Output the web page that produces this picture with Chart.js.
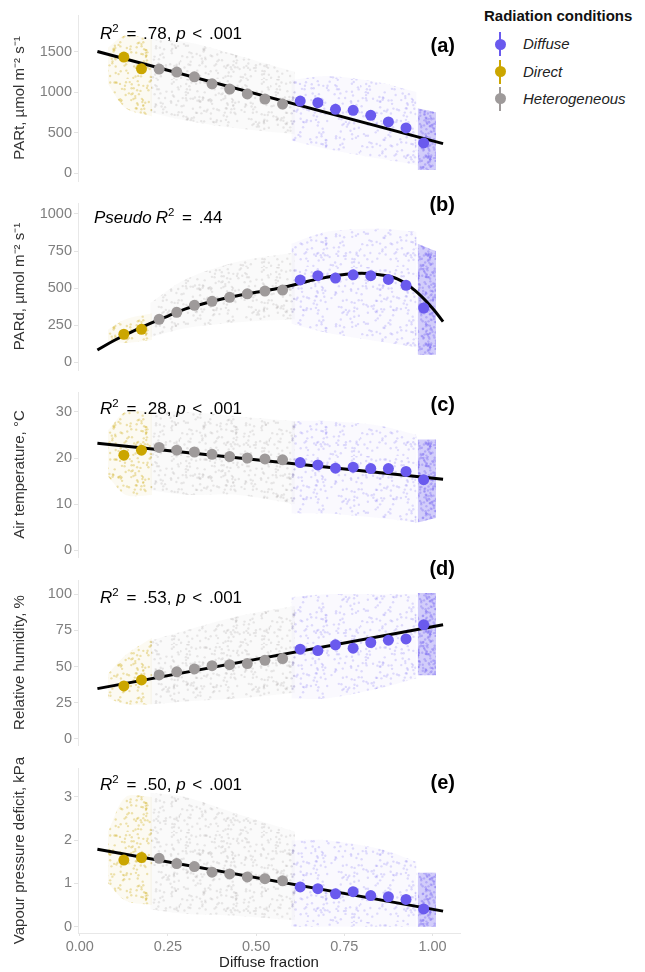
<!DOCTYPE html>
<html>
<head>
<meta charset="utf-8">
<script src="https://cdn.jsdelivr.net/npm/chart.js@4.4.1/dist/chart.umd.min.js"></script>
<style>
  body { margin: 0; background: #fff; width: 645px; height: 972px; position: relative; overflow: hidden;
         font-family: "Liberation Sans", Arial, sans-serif; }
  canvas { position: absolute; left: 0; }
  .lt { position: absolute; left: 484px; top: 7px; font-weight: bold; font-size: 15px; color: #111; }
  .li { position: absolute; left: 488px; height: 24px; line-height: 24px; font-style: italic; font-size: 15px; color: #222; }
  .li .bar { position: absolute; left: 11px; top: 0; width: 2px; height: 24px; }
  .li .dot { position: absolute; left: 6.5px; top: 6.5px; width: 11px; height: 11px; border-radius: 50%; }
  .li span.txt { position: absolute; left: 35px; white-space: nowrap; }
</style>
</head>
<body>
<canvas id="pa"></canvas>
<canvas id="pb"></canvas>
<canvas id="pc"></canvas>
<canvas id="pd"></canvas>
<canvas id="pe"></canvas>
<div id="legend"></div>
<script>
// bin centres of the diffuse fraction, by radiation condition
const directX = [0.125, 0.175];
const heteroX = [0.225, 0.275, 0.325, 0.375, 0.425, 0.475, 0.525, 0.575];
const diffuseX = [0.625, 0.675, 0.725, 0.775, 0.825, 0.875, 0.925, 0.975];

// binned means: 2 direct, 8 heterogeneous, 8 diffuse
const meanParT = [1432, 1288, 1284, 1247, 1189, 1103, 1038, 977, 915, 853, 890, 870, 788, 775, 714, 632, 558, 374];
const meanParD = [189, 222, 290, 337, 384, 411, 438, 462, 480, 487, 555, 584, 568, 590, 584, 559, 519, 366];
const meanTemp = [20.6, 21.7, 22.3, 21.7, 21.3, 20.8, 20.3, 20.0, 19.8, 19.6, 19.0, 18.5, 17.8, 18.0, 17.7, 17.7, 17.1, 15.3];
const meanRH = [36.7, 40.8, 44.3, 46.4, 48.4, 50.7, 51.4, 52.1, 54.4, 55.6, 62.1, 61.1, 65.1, 62.8, 66.7, 68.3, 69.2, 78.9];
const meanVPD = [1.54, 1.60, 1.58, 1.46, 1.39, 1.26, 1.22, 1.15, 1.11, 1.06, 0.92, 0.88, 0.76, 0.81, 0.72, 0.69, 0.63, 0.41];

// fitted lines
const fitX = [0.05, 1.03];
const fitParT = [1500, 365];
const fitTemp = [23.2, 15.4];
const fitRH = [34.8, 78.9];
const fitVPD = [1.79, 0.36];
const curveX = [0.05, 0.10, 0.15, 0.20, 0.25, 0.30, 0.35, 0.40, 0.45, 0.50, 0.55, 0.60, 0.65, 0.70, 0.75, 0.80, 0.85, 0.90, 0.95, 1.00, 1.03];
const curveParD = [83, 150, 208, 262, 312, 360, 395, 425, 450, 472, 492, 518, 548, 574, 592, 600, 590, 562, 485, 365, 274];

// raw-data clouds, rough envelopes: direct(3) | heterogeneous(4) | diffuse(4) | dense strip near 1 (2)
const cloudDirectX = [0.08, 0.13, 0.205];
const cloudHeteroX = [0.2, 0.3, 0.45, 0.61];
const cloudDiffuseX = [0.6, 0.7, 0.85, 0.955];
const cloudStripX = [0.958, 1.01];
const hiParT = [1550, 1700, 1650, 1650, 1620, 1450, 1250, 1150, 1200, 1120, 1000, 800, 750];
const loParT = [1100, 800, 700, 750, 650, 550, 480, 400, 300, 180, 100, 40, 40];
const hiParD = [220, 290, 330, 400, 560, 680, 740, 800, 880, 900, 880, 800, 750];
const loParD = [140, 130, 150, 170, 230, 270, 290, 260, 200, 140, 100, 50, 50];
const hiTemp = [26, 30, 30, 30, 30, 29, 28, 28, 28, 27, 25, 24, 24];
const loTemp = [16, 12, 12, 13, 12, 12, 10, 8, 8, 7, 6, 6, 7];
const hiRH = [45, 58, 70, 68, 75, 85, 92, 98, 100, 100, 100, 101, 101];
const loRH = [28, 24, 24, 24, 26, 28, 32, 28, 28, 35, 42, 44, 44];
const hiVPD = [2.2, 3.0, 3.0, 3.1, 3.0, 2.6, 2.2, 2.0, 2.0, 1.8, 1.5, 1.25, 1.25];
const loVPD = [1.0, 0.6, 0.5, 0.4, 0.3, 0.25, 0.15, 0, 0, 0, 0, 0, 0];

const ticksParT = [0, 500, 1000, 1500];
const ticksParD = [0, 250, 500, 750, 1000];
const ticksTemp = [0, 10, 20, 30];
const ticksRH = [0, 25, 50, 75, 100];
const ticksVPD = [0, 1, 2, 3];
const ticksX = [0, 0.25, 0.5, 0.75, 1];

const groups = ['Diffuse', 'Direct', 'Heterogeneous'];
const colDiffuse = '106,90,238';
const colDirect = '203,166,0';
const colHetero = '158,154,154';

const FONT = '"Liberation Sans", Arial, sans-serif';

function pts(xs, ys) { return xs.map((x, i) => ({ x: x, y: ys[i] })); }

// speckled texture so the envelopes read as a haze of faint points
function hash(i) { const s = Math.sin(i * 12.9898 + 78.233) * 43758.5453; return s - Math.floor(s); }
function speckle(rgb, n, alpha, base) {
  const size = 90;
  const c = document.createElement('canvas');
  c.width = size; c.height = size;
  const g = c.getContext('2d');
  g.fillStyle = 'rgba(' + rgb + ',' + base + ')';
  g.fillRect(0, 0, size, size);
  g.fillStyle = 'rgba(' + rgb + ',' + alpha + ')';
  for (let i = 1; i <= n; i++) {
    g.beginPath();
    g.arc(hash(i) * size, hash(i + 7919) * size, 1.2, 0, Math.PI * 2);
    g.fill();
  }
  return g.createPattern(c, 'repeat');
}

function drawRich(ctx, x, y, segs) {
  let cx = x;
  segs.forEach(s => {
    if (s.gap) { cx += s.gap; return; }
    const size = s.sup ? 11.5 : 17;
    ctx.font = (s.it ? 'italic ' : '') + size + 'px ' + FONT;
    ctx.fillText(s.t, cx, s.sup ? y - 7 : y);
    cx += ctx.measureText(s.t).width;
  });
}

const panelText = {
  id: 'panelText',
  afterDraw(chart, args, o) {
    const { ctx, chartArea } = chart;
    ctx.save();
    ctx.fillStyle = '#000';
    ctx.textAlign = 'right';
    ctx.textBaseline = 'middle';
    ctx.font = 'bold 20px ' + FONT;
    ctx.fillText(o.letter, chartArea.right - 5, chartArea.top + o.letterDy);
    ctx.textAlign = 'left';
    ctx.textBaseline = 'alphabetic';
    drawRich(ctx, o.noteX, chartArea.top + o.noteDy, o.note);
    ctx.restore();
  }
};

function stat(r2) {
  return [{ t: 'R', it: true }, { t: '2', sup: true }, { gap: 3 }, { t: ' = ' }, { gap: 2 }, { t: r2 + ', ' },
          { t: 'p', it: true }, { gap: 2 }, { t: ' < ' }, { gap: 2 }, { t: '.001' }];
}

function makePanel(id, p) {
  const cv = document.getElementById(id);
  const padTop = 26;
  const padBottom = p.showX ? 0 : 12;
  const axisH = p.showX ? 39 : 0;
  cv.width = 470;
  cv.height = padTop + (p.bottom - p.top) + padBottom + axisH;
  cv.style.top = (p.top - padTop) + 'px';
  const ctx = cv.getContext('2d');

  const datasets = [];
  const cloud = (xs, hi, lo, fillStyle) => {
    datasets.push({ type: 'line', data: pts(xs, hi), borderWidth: 0, borderColor: 'transparent',
                    pointRadius: 0, fill: false, tension: 0.3, order: 5 });
    datasets.push({ type: 'line', data: pts(xs, lo), borderWidth: 0, borderColor: 'transparent',
                    pointRadius: 0, fill: '-1', tension: 0.3, backgroundColor: fillStyle, order: 5 });
  };
  cloud(cloudDirectX, p.hi.slice(0, 3), p.lo.slice(0, 3), speckle(colDirect, 330, 0.3, 0.05));
  cloud(cloudHeteroX, p.hi.slice(3, 7), p.lo.slice(3, 7), speckle(colHetero, 330, 0.22, 0.05));
  cloud(cloudDiffuseX, p.hi.slice(7, 11), p.lo.slice(7, 11), speckle(colDiffuse, 260, 0.2, 0.035));
  cloud(cloudStripX, p.hi.slice(11, 13), p.lo.slice(11, 13), speckle(colDiffuse, 900, 0.3, 0.3));

  datasets.push({ type: 'line', data: pts(p.fitX, p.fit), borderColor: '#000', borderWidth: 3,
                  pointRadius: 0, fill: false, tension: p.curve ? 0.4 : 0, order: 2 });

  const mean = (xs, ys, rgb, label) => datasets.push({
    label: label, data: pts(xs, ys), backgroundColor: 'rgb(' + rgb + ')', borderWidth: 0,
    pointRadius: 5.5, pointHoverRadius: 5.5, order: 1 });
  mean(diffuseX, p.mean.slice(10), colDiffuse, groups[0]);
  mean(directX, p.mean.slice(0, 2), colDirect, groups[1]);
  mean(heteroX, p.mean.slice(2, 10), colHetero, groups[2]);

  new Chart(ctx, {
    type: 'scatter',
    data: { datasets: datasets },
    options: {
      responsive: false,
      animation: false,
      devicePixelRatio: 1,
      events: [],
      layout: { padding: { left: 0, right: 10, top: padTop, bottom: padBottom } },
      plugins: {
        legend: { display: false },
        tooltip: { enabled: false },
        panelText: p.text
      },
      scales: {
        x: {
          type: 'linear', min: -0.005, max: 1.078, display: !!p.showX,
          afterBuildTicks: s => { s.ticks = ticksX.map(v => ({ value: v })); },
          afterFit: s => { s.height = axisH; },
          ticks: { color: '#7f7f7f', font: { size: 14.5, family: FONT }, padding: 2,
                   callback: v => v.toFixed(2), maxRotation: 0 },
          grid: { drawOnChartArea: false, tickLength: 3, tickColor: '#e3e3e3' },
          border: { color: '#e8e8e8', width: 1 },
          title: { display: true, text: 'Diffuse fraction', color: '#222',
                   font: { size: 15, family: FONT }, padding: { top: 0, bottom: 0 } }
        },
        y: {
          min: p.min, max: p.max,
          afterBuildTicks: s => { s.ticks = p.ticks.map(v => ({ value: v })); },
          afterFit: s => { s.width = 78; },
          ticks: { color: '#7f7f7f', font: { size: 14.5, family: FONT }, padding: 2, callback: v => String(v) },
          grid: { drawOnChartArea: false, tickLength: 4, tickColor: '#e3e3e3' },
          border: { color: '#e8e8e8', width: 1 },
          title: { display: true, text: p.title, color: '#333',
                   font: { size: 15, family: FONT }, padding: { top: 11 } }
        }
      }
    },
    plugins: [panelText]
  });
}

makePanel('pa', {
  top: 15, bottom: 181.5, min: -96, max: 1951, ticks: ticksParT, mean: meanParT,
  fitX: fitX, fit: fitParT, hi: hiParT, lo: loParT, title: 'PARt, µmol m⁻² s⁻¹',
  text: { letter: '(a)', letterDy: 31, noteX: 100, noteDy: 24, note: stat('.78') }
});
makePanel('pb', {
  top: 203, bottom: 370, min: -52, max: 1074, ticks: ticksParD, mean: meanParD,
  fitX: curveX, fit: curveParD, curve: true, hi: hiParD, lo: loParD, title: 'PARd, µmol m⁻² s⁻¹',
  text: { letter: '(b)', letterDy: 2, noteX: 94, noteDy: 19.5,
          note: [{ t: 'Pseudo', it: true }, { gap: 4 }, { t: 'R', it: true }, { t: '2', sup: true }, { gap: 3 },
                 { t: ' = ' }, { gap: 2 }, { t: '.44' }] }
});
makePanel('pc', {
  top: 392, bottom: 557, min: -1.45, max: 34.3, ticks: ticksTemp, mean: meanTemp,
  fitX: fitX, fit: fitTemp, hi: hiTemp, lo: loTemp, title: 'Air temperature, °C',
  text: { letter: '(c)', letterDy: 13, noteX: 100, noteDy: 21.7, note: stat('.28') }
});
makePanel('pd', {
  top: 580, bottom: 745, min: -4.15, max: 109.9, ticks: ticksRH, mean: meanRH,
  fitX: fitX, fit: fitRH, hi: hiRH, lo: loRH, title: 'Relative humidity, %',
  text: { letter: '(d)', letterDy: -11, noteX: 100, noteDy: 22.7, note: stat('.53') }
});
makePanel('pe', {
  top: 768, bottom: 933, min: -0.146, max: 3.67, ticks: ticksVPD, mean: meanVPD, showX: true,
  fitX: fitX, fit: fitVPD, hi: hiVPD, lo: loVPD, title: 'Vapour pressure deficit, kPa',
  text: { letter: '(e)', letterDy: 15, noteX: 100, noteDy: 22, note: stat('.50') }
});

// legend
const legend = document.getElementById('legend');
const lt = document.createElement('div');
lt.className = 'lt';
lt.textContent = 'Radiation conditions';
legend.appendChild(lt);
const legendCols = [colDiffuse, colDirect, colHetero];
const legendY = [44, 71.5, 98.5];
groups.forEach((g, i) => {
  const row = document.createElement('div');
  row.className = 'li';
  row.style.top = (legendY[i] - 12) + 'px';
  row.innerHTML = '<div class="bar" style="background:rgb(' + legendCols[i] + ')"></div>' +
                  '<div class="dot" style="background:rgb(' + legendCols[i] + ')"></div>' +
                  '<span class="txt">' + g + '</span>';
  legend.appendChild(row);
});
</script>
</body>
</html>
